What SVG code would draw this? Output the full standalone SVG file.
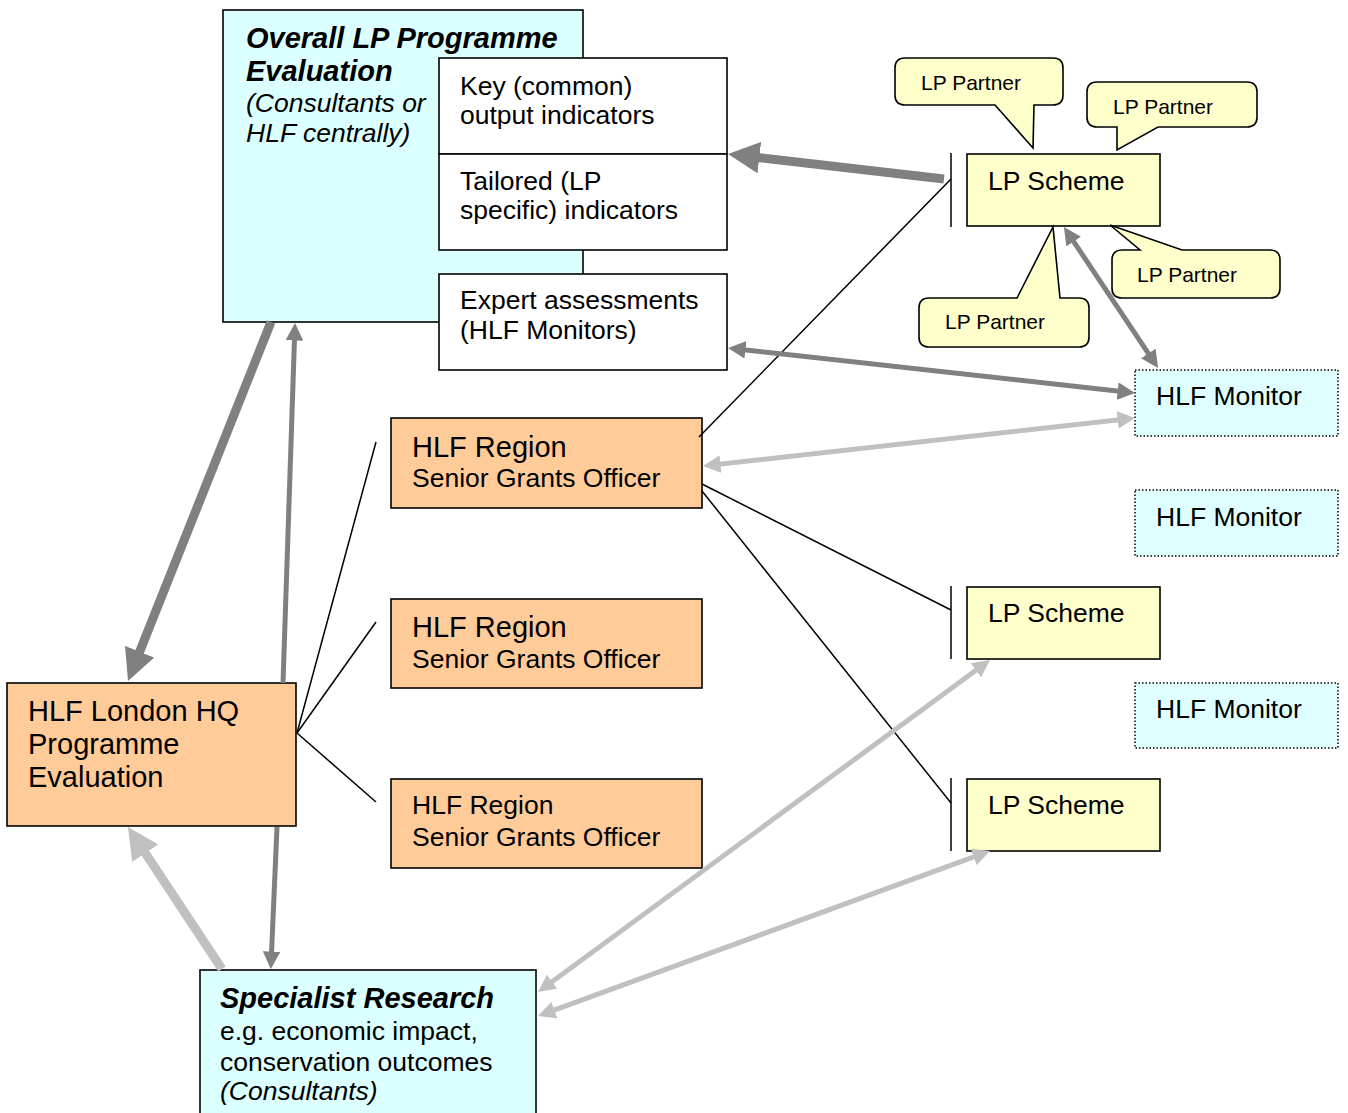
<svg xmlns="http://www.w3.org/2000/svg" width="1348" height="1113" viewBox="0 0 1348 1113">
<style>
text { font-family: "Liberation Sans", Arial, sans-serif; fill: #000; }
.t { font-size: 26.5px; }
.ti { font-size: 26.5px; font-style: italic; }
.tb { font-size: 29px; font-weight: bold; font-style: italic; }
.tl { font-size: 29px; }
.tp { font-size: 21px; }
.box { stroke: #000; stroke-width: 1.6; }
.cyan { fill: #DCFFFF; }
.orange { fill: #FFCC99; }
.yellow { fill: #FFFFCC; }
.white { fill: #FFFFFF; }
.mon { fill: #DFFFFF; stroke: #000; stroke-width: 1.5; stroke-dasharray: 1.5 2; }
.thin { stroke: #000; stroke-width: 1.5; fill: none; }
.dk { stroke: #808080; fill: none; stroke-linecap: butt; }
.lt { stroke: #C0C0C0; fill: none; stroke-linecap: butt; }
</style>
<defs>
<marker id="hd" viewBox="0 0 10 10" refX="1" refY="5" markerWidth="3.5" markerHeight="3.5" orient="auto-start-reverse" markerUnits="strokeWidth"><path d="M0,0 L10,5 L0,10 z" fill="#808080"/></marker>
<marker id="hl" viewBox="0 0 10 10" refX="1" refY="5" markerWidth="3.5" markerHeight="3.5" orient="auto-start-reverse" markerUnits="strokeWidth"><path d="M0,0 L10,5 L0,10 z" fill="#C0C0C0"/></marker>
</defs>
<rect width="1348" height="1113" fill="#FFFFFF"/>

<g id="overall">
<rect class="box cyan" x="223" y="10" width="360" height="312"/>
<text class="tb" x="246" y="48">Overall LP Programme</text>
<text class="tb" x="246" y="81">Evaluation</text>
<text class="ti" x="246" y="112">(Consultants or</text>
<text class="ti" x="246" y="142">HLF centrally)</text>
</g>
<g id="key-indicators">
<rect class="box white" x="439" y="58" width="288" height="96"/>
<text class="t" x="460" y="95">Key (common)</text>
<text class="t" x="460" y="124">output indicators</text>
</g>
<g id="tailored-indicators">
<rect class="box white" x="439" y="154" width="288" height="96"/>
<text class="t" x="460" y="190">Tailored (LP</text>
<text class="t" x="460" y="219">specific) indicators</text>
</g>
<g id="expert-assessments">
<rect class="box white" x="439" y="274" width="288" height="96"/>
<text class="t" x="460" y="309">Expert assessments</text>
<text class="t" x="460" y="339">(HLF Monitors)</text>
</g>

<g id="lp-scheme-1">
<rect class="box yellow" x="967" y="154" width="193" height="72"/>
<text class="t" x="988" y="190">LP Scheme</text>
</g>
<g id="lp-partner-1">
<path class="box yellow" d="M905,58 H1053 Q1063,58 1063,68 V95 Q1063,105 1053,105 H1034 L1033,148 L995,105 H905 Q895,105 895,95 V68 Q895,58 905,58 Z"/>
<text class="tp" x="921" y="90">LP Partner</text>
</g>
<g id="lp-partner-2">
<path class="box yellow" d="M1097,82 H1247 Q1257,82 1257,92 V117 Q1257,127 1247,127 H1158 L1117,150 V127 H1097 Q1087,127 1087,117 V92 Q1087,82 1097,82 Z"/>
<text class="tp" x="1113" y="114">LP Partner</text>
</g>
<g id="lp-partner-3">
<path class="box yellow" d="M1122,250 H1140 L1110,225 L1182,250 H1270 Q1280,250 1280,260 V288 Q1280,298 1270,298 H1122 Q1112,298 1112,288 V260 Q1112,250 1122,250 Z"/>
<text class="tp" x="1137" y="282">LP Partner</text>
</g>
<g id="lp-partner-4">
<path class="box yellow" d="M929,298 H1017 L1053,227 L1060,298 H1079 Q1089,298 1089,308 V337 Q1089,347 1079,347 H929 Q919,347 919,337 V308 Q919,298 929,298 Z"/>
<text class="tp" x="945" y="329">LP Partner</text>
</g>

<g id="hlf-monitor-1">
<rect class="mon" x="1135" y="370" width="203" height="66"/>
<text class="t" x="1156" y="405">HLF Monitor</text>
</g>
<g id="hlf-monitor-2">
<rect class="mon" x="1135" y="490" width="203" height="66"/>
<text class="t" x="1156" y="526">HLF Monitor</text>
</g>
<g id="hlf-monitor-3">
<rect class="mon" x="1135" y="683" width="203" height="65"/>
<text class="t" x="1156" y="718">HLF Monitor</text>
</g>

<g id="lp-scheme-2">
<rect class="box yellow" x="967" y="587" width="193" height="72"/>
<text class="t" x="988" y="622">LP Scheme</text>
</g>
<g id="lp-scheme-3">
<rect class="box yellow" x="967" y="779" width="193" height="72"/>
<text class="t" x="988" y="814">LP Scheme</text>
</g>

<g id="hlf-region-1">
<rect class="box orange" x="391" y="418" width="311" height="90"/>
<text class="tl" x="412" y="457">HLF Region</text>
<text class="t" x="412" y="487">Senior Grants Officer</text>
</g>
<g id="hlf-region-2">
<rect class="box orange" x="391" y="599" width="311" height="89"/>
<text class="tl" x="412" y="637">HLF Region</text>
<text class="t" x="412" y="668">Senior Grants Officer</text>
</g>
<g id="hlf-region-3">
<rect class="box orange" x="391" y="779" width="311" height="89"/>
<text class="t" x="412" y="814">HLF Region</text>
<text class="t" x="412" y="846">Senior Grants Officer</text>
</g>

<g id="hlf-london-hq">
<rect class="box orange" x="7" y="683" width="289" height="143"/>
<text class="tl" x="28" y="721">HLF London HQ</text>
<text class="tl" x="28" y="754">Programme</text>
<text class="tl" x="28" y="787">Evaluation</text>
</g>

<g id="specialist-research">
<rect class="box cyan" x="200" y="970" width="336" height="150"/>
<text class="tb" x="220" y="1008">Specialist Research</text>
<text class="t" x="220" y="1040">e.g. economic impact,</text>
<text class="t" x="220" y="1071">conservation outcomes</text>
<text class="ti" x="220" y="1100">(Consultants)</text>
</g>

<g id="connectors">
<!-- brackets before LP Schemes -->
<line class="thin" x1="951" y1="153" x2="951" y2="227"/>
<line class="thin" x1="951" y1="586" x2="951" y2="659"/>
<line class="thin" x1="951" y1="778" x2="951" y2="851"/>
<!-- thin black lines -->
<line class="thin" x1="699" y1="437" x2="951" y2="179"/>
<line class="thin" x1="702" y1="484" x2="951" y2="610"/>
<line class="thin" x1="702" y1="491" x2="951" y2="803"/>
<line class="thin" x1="297" y1="733" x2="376" y2="442"/>
<line class="thin" x1="297" y1="733" x2="376" y2="622"/>
<line class="thin" x1="297" y1="733" x2="376" y2="802"/>
<!-- dark grey arrows -->
<path class="dk" stroke-width="9" d="M944,179 L756.2,157.3" marker-end="url(#hd)"/>
<path class="dk" stroke-width="9" d="M271,322 L138.5,654.6" marker-end="url(#hd)"/>
<path class="dk" stroke-width="5" d="M283,683 L294.5,338.7" marker-end="url(#hd)"/>
<path class="dk" stroke-width="5" d="M277,827 L271.5,953.3" marker-end="url(#hd)"/>
<path class="dk" stroke-width="5" d="M1072.7,240.1 L1149.3,354.9" marker-start="url(#hd)" marker-end="url(#hd)"/>
<path class="dk" stroke-width="5" d="M743.7,349.7 L1119.4,391.3" marker-start="url(#hd)" marker-end="url(#hd)"/>
<!-- light grey arrows -->
<path class="lt" stroke-width="5" d="M718.7,464.3 L1119.4,419.7" marker-start="url(#hl)" marker-end="url(#hl)"/>
<path class="lt" stroke-width="9" d="M222,969 L143.6,850.6" marker-end="url(#hl)"/>
<path class="lt" stroke-width="5" d="M550.7,982.7 L977.3,669.3" marker-start="url(#hl)" marker-end="url(#hl)"/>
<path class="lt" stroke-width="5" d="M552.8,1010.6 L975.2,856.4" marker-start="url(#hl)" marker-end="url(#hl)"/>
</g>
</svg>
